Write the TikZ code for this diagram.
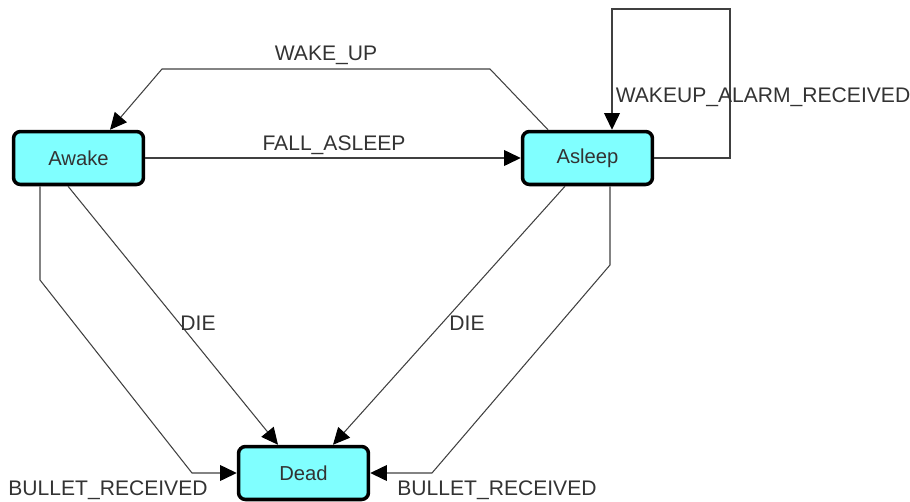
\documentclass[tikz,border=0pt]{standalone}
\usepackage{fontspec}
\setmainfont{Liberation Sans}
\usepackage{tikz}
\usetikzlibrary{arrows.meta}
\definecolor{boxfill}{RGB}{128,255,255}
\tikzset{
    stbox/.style={draw=black, line width=2pt, rounded corners=4pt, fill=boxfill,
        minimum width=2.6cm, minimum height=1.06cm, text=black!80,
        font=\fontsize{11.5}{13}\selectfont}, % the state boxes
    trans/.style={draw=black!75, line width=0.6pt, -{Triangle[length=9.5pt, width=9pt, color=black]}}, % the transitions
    lbl/.style={text=black!80, font=\fontsize{12}{14}\selectfont, inner sep=1pt}, % edge labels
}

\begin{document}
\begin{tikzpicture}[x=0.02cm, y=-0.02cm]
    \useasboundingbox (0,0) rectangle (910,501);
    \node[stbox] (awake) at (78.5,158) {Awake};
    \node[stbox] (asleep) at (587.5,158) {Asleep};
    \node[stbox] (dead) at (303.5,473) {Dead};
    % upper transitions
    \draw[trans] (awake) -- (asleep);
    \draw[trans] (asleep.north -| 548,0) -- (490,69) -- (162,69) -- (awake.north -| 110,0);
    \draw[trans] (asleep.east) -- (730,158) -- (730,9) -- (612,9) -- (asleep.north -| 612,0);
    % transitions into dead
    \draw[trans] (awake.south -| 68,0) -- (dead.north -| 278,0);
    \draw[trans] (asleep.south -| 565,0) -- (dead.north -| 333,0);
    \draw[trans] (awake.south -| 40,0) -- (40,280) -- (192,473) -- (dead.west);
    \draw[trans] (asleep.south -| 610,0) -- (610,265) -- (432,473) -- (dead.east);
    % labels
    \node[lbl] (lwake) at (326,55) {WAKE\_UP};
    \node[lbl] (lfall) at (334,145) {FALL\_ASLEEP};
    \node[lbl] (lalarm) at (763,97) {WAKEUP\_ALARM\_RECEIVED};
    \node[lbl] (ldie1) at (198,323) {DIE};
    \node[lbl] (ldie2) at (467,323) {DIE};
    \node[lbl] (lbul1) at (108,490) {BULLET\_RECEIVED};
    \node[lbl] (lbul2) at (497,490) {BULLET\_RECEIVED};
\end{tikzpicture}
\end{document}
